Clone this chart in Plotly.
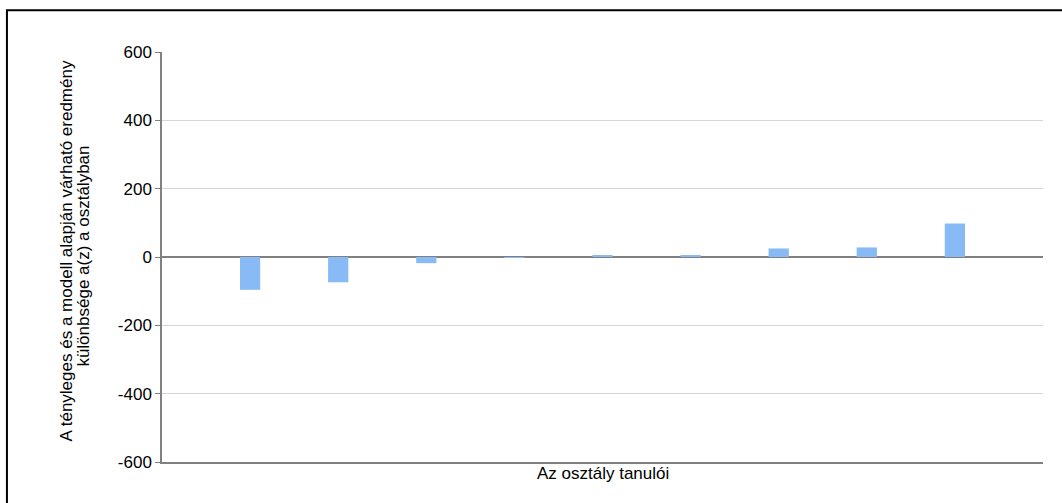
import plotly.graph_objects as go

# students of the class (x positions) and difference actual - expected
students = [1, 2, 3, 4, 5, 6, 7, 8, 9]
differences = [-96, -74, -18, -1, 5, 4, 25, 28, 98]

y_ticks = [-600, -400, -200, 0, 200, 400, 600]
x_title = "Az osztály tanulói"
y_title_lines = [
    "A tényleges és a modell alapján várható eredmény",
    "különbsége a(z) a osztályban",
]

FONT = "Liberation Sans, Arial, sans-serif"

fig = go.Figure(
    data=go.Bar(
        x=students,
        y=differences,
        width=0.23,
        marker=dict(color="#88bbf6", line=dict(width=0)),
        hoverinfo="y",
    )
)

fig.update_layout(
    width=1062,
    height=503,
    margin=dict(l=162, r=19, t=52, b=41),
    paper_bgcolor="white",
    plot_bgcolor="white",
    showlegend=False,
    font=dict(family=FONT, size=17, color="black"),
    xaxis=dict(
        range=[0, 10],
        showticklabels=False,
        showgrid=False,
        zeroline=False,
        showline=True,
        linecolor="#808080",
        linewidth=2,
        ticks="",
        fixedrange=True,
    ),
    yaxis=dict(
        range=[-600, 600],
        tickvals=y_ticks,
        ticktext=[str(v) for v in y_ticks],
        ticks="outside",
        ticklen=5,
        tickcolor="#808080",
        showline=True,
        linecolor="#808080",
        linewidth=1.5,
        showgrid=True,
        gridcolor="#d6d6d6",
        gridwidth=1,
        zeroline=True,
        zerolinecolor="#808080",
        zerolinewidth=2,
        tickfont=dict(family=FONT, size=17, color="black"),
        fixedrange=True,
    ),
)

# axis titles
fig.add_annotation(
    text=x_title, xref="paper", yref="paper", x=0.5, y=-0.027,
    xanchor="center", yanchor="middle", showarrow=False,
    font=dict(family=FONT, size=17, color="black"),
)
for xpos, ypos, line in zip([-0.109, -0.0885], [0.516, 0.501], y_title_lines):
    fig.add_annotation(
        text=line, xref="paper", yref="paper", x=xpos, y=ypos,
        xanchor="center", yanchor="middle", textangle=-90, showarrow=False,
        font=dict(family=FONT, size=17, color="black"),
    )

# outer frame
fig.add_shape(
    type="rect", xref="paper", yref="paper",
    x0=-0.176, x1=1.05, y0=-0.13, y1=1.102,
    line=dict(color="black", width=2), layer="below",
)

fig.write_html(
    "out.html",
    config={"displayModeBar": False},
    post_script="document.body.style.margin='0';document.body.style.overflow='hidden';",
)
